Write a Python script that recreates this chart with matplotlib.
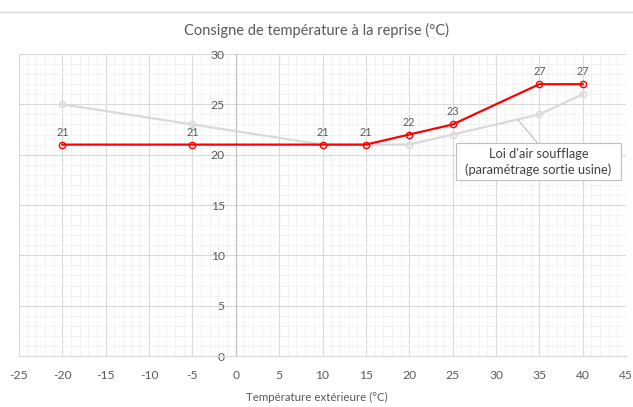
import matplotlib.pyplot as plt
from matplotlib.lines import Line2D
from matplotlib.patches import Rectangle
from matplotlib.ticker import MultipleLocator

plt.rcParams['font.family'] = ['Lato', 'DejaVu Sans']
plt.rcParams['axes.unicode_minus'] = False

# outdoor temperature (°C)
t_ext = [-20, -5, 10, 15, 20, 25, 35, 40]
# return air setpoint
consigne = [21, 21, 21, 21, 22, 23, 27, 27]
# supply air law (factory setting)
soufflage = [25, 23, 21, 21, 21, 22, 24, 26]

title = "Consigne de température à la reprise (°C)"
xlabel = "Température extérieure (°C)"
callout = "Loi d'air soufflage\n(paramétrage sortie usine)"

txt_col = '#595959'
red = '#ff0000'
grey = '#d9d9d9'

fig = plt.figure(figsize=(6.33, 4.07), dpi=100)
ax = fig.add_axes([0.030, 0.1253, 0.959, 0.742])

ax.plot(t_ext, soufflage, color=grey, lw=1.6, marker='o', ms=4.5,
        mfc='none', mec=grey, mew=1.0, zorder=3)
ax.plot(t_ext, consigne, color=red, lw=1.6, marker='o', ms=4.5,
        mfc='none', mec=red, mew=1.0, zorder=4)

for x, y in zip(t_ext, consigne):
    ax.annotate(str(y), (x, y), xytext=(0, 7), textcoords='offset pixels',
                ha='center', va='bottom', fontsize=7.8, color=txt_col)

# callout for the supply air curve: box, leader line and text
box = Rectangle((25.4, 17.45), 19.0, 3.7, fc='white', ec='#bfbfbf', lw=0.8,
                zorder=5)
ax.add_patch(box)
ax.plot([32.5, 34.8], [23.5, 21.15], color='#bfbfbf', lw=0.8, zorder=5)
ax.text(34.9, 19.3, callout, ha='center', va='center', fontsize=9.3,
        color='#404040', linespacing=1.35, zorder=6)

ax.set_xlim(-25, 45)
ax.set_ylim(0, 30)
ax.xaxis.set_major_locator(MultipleLocator(5))
ax.yaxis.set_major_locator(MultipleLocator(5))
ax.xaxis.set_minor_locator(MultipleLocator(1))
ax.yaxis.set_minor_locator(MultipleLocator(1))
ax.grid(True, which='major', color='#d9d9d9', lw=0.8, zorder=0)
ax.grid(True, which='minor', color='#f0f0f0', lw=0.6, zorder=0)
ax.set_axisbelow(True)

for s in ['top', 'right']:
    ax.spines[s].set_visible(False)
ax.spines['left'].set_position(('data', 0))
ax.spines['left'].set_color('#bfbfbf')
ax.spines['bottom'].set_color('#d9d9d9')
ax.spines['left'].set_linewidth(0.8)
ax.spines['bottom'].set_linewidth(0.8)

ax.tick_params(axis='both', which='both', length=0, labelsize=8.7,
               labelcolor=txt_col)
ax.tick_params(axis='y', pad=8)
ax.tick_params(axis='x', pad=10)

fig.text(0.5, 1 - 30 / 407, title, ha='center', va='center', fontsize=10.5,
         color=txt_col)
fig.text(0.5, 1 - 397 / 407, xlabel, ha='center', va='center', fontsize=8.3,
         color=txt_col)
fig.add_artist(Line2D([0, 1], [1 - 12 / 407] * 2, color='#d9d9d9', lw=1))

fig.savefig('out.png', dpi=100)
